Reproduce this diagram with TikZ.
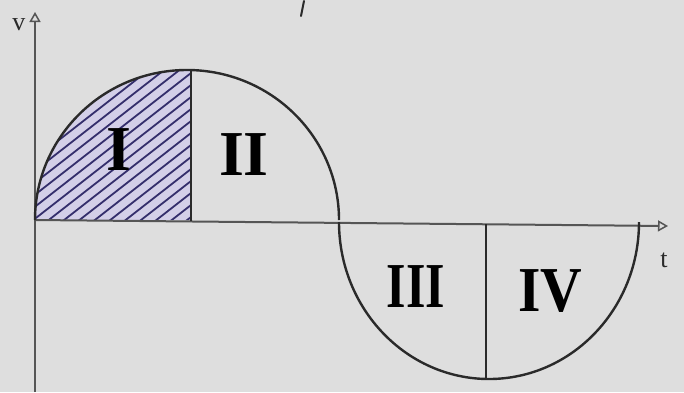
\documentclass[tikz,border=0pt]{standalone}
\usepackage{fontspec}
\setmainfont{Liberation Serif}
\usetikzlibrary{arrows.meta}
\definecolor{paper}{HTML}{DEDEDE}
\definecolor{ink}{HTML}{2A2A2A}
\definecolor{axisink}{HTML}{555555}
\definecolor{hatchink}{HTML}{342E6C}
\definecolor{lavender}{HTML}{D3CFE8}
\tikzset{
  axisline/.style={axisink, line width=2pt, -{Triangle[open, length=10pt, width=11pt, line width=1.5pt]}},
  curve/.style={ink, line width=2.4pt},
  divider/.style={ink, line width=1.8pt},
  numeral/.style={font=\fontsize{64}{64}\selectfont\bfseries, text=black, inner sep=0pt},
  axlabel/.style={font=\fontsize{26}{26}\selectfont, text=ink, inner sep=0pt},
  hatch/.style={hatchink, line width=1.8pt}
}
\begin{document}
\begin{tikzpicture}[x=1pt, y=-1pt]
\fill[paper] (0,0) rectangle (684,392);
\useasboundingbox (0,0) rectangle (684,392);
% shaded quarter I
\begin{scope}
  \clip (35,220) arc[start angle=180, end angle=270, x radius=152, y radius=150] -- (191,70) -- (191,220) -- cycle;
  \fill[lavender] (30,60) rectangle (200,225);
  \foreach \c in {150,162,...,380} {
    \draw[hatch] (25,\c-19.5) -- (205,\c-159.9);
  }
\end{scope}
% axes
\coordinate (o) at (35,220);
\coordinate (vend) at (35,12);
\coordinate (vbot) at (35,392);
\coordinate (tend) at (668,226);
\draw[axisline] (vbot) -- (vend);
\draw[axisline] (o) -- (tend);
\node[axlabel] (v) at (19,25) {v};
\node[axlabel] (t) at (664,260) {t};
% curves
\draw[curve] (35,220) arc[start angle=180, end angle=360, x radius=152, y radius=150];
\draw[curve] (339,222) arc[start angle=180, end angle=0, x radius=150, y radius=157];
% dividers
\draw[divider] (191,70) -- (191,221);
\draw[divider] (486,224) -- (486,379);
% stray stroke at top
\draw[ink, line width=2pt, line cap=round] (304,1) -- (301,16);
% numerals
\node[numeral] (n1) at (119,150) {I};
\node[numeral] (n2) at (244,155) {II};
\node[numeral, xscale=0.78] (n3) at (416,287) {III};
\node[numeral, xscale=0.9] (n4) at (550,291) {IV};
\end{tikzpicture}
\end{document}
